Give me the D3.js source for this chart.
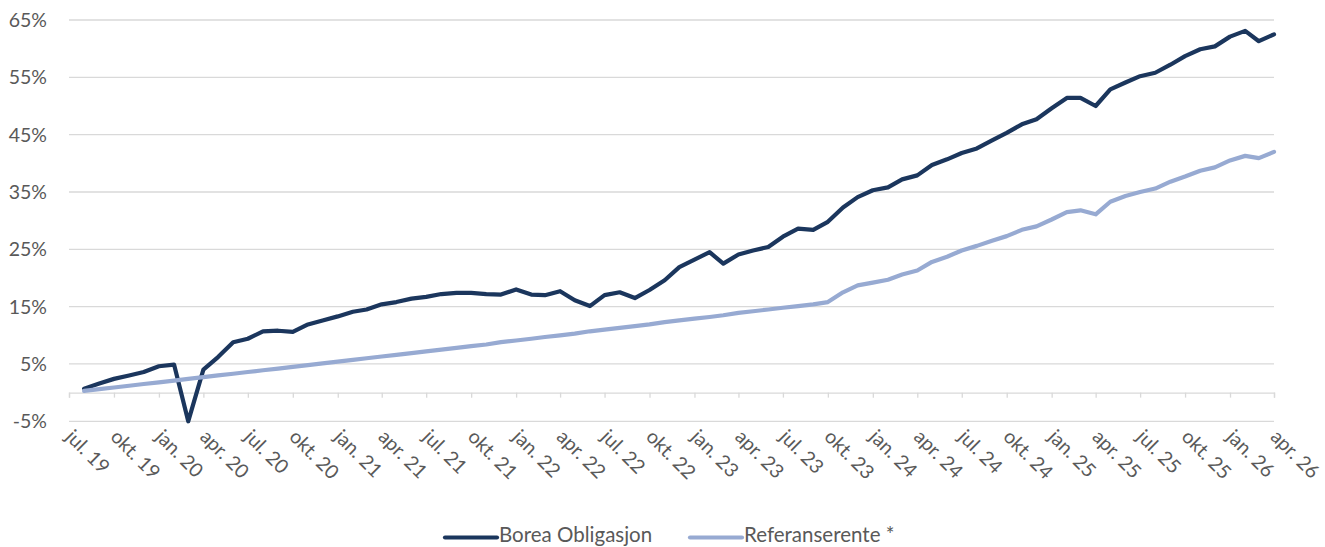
<!DOCTYPE html>
<html>
<head>
<meta charset="utf-8">
<script src="https://cdn.jsdelivr.net/npm/d3@7"></script>
<style>
  html, body { margin: 0; padding: 0; background: #ffffff; }
  svg { display: block; font-family: Lato, "Open Sans", sans-serif; }
</style>
</head>
<body>
<svg id="chart" width="1325" height="547"></svg>
<script>
// ---- Data ----
const seriesNames = ["Borea Obligasjon", "Referanserente *"];
const firstMonth = "2019-08";   // first data point (monthly)
const lastMonth = "2026-04";    // last data point (monthly)
const boreaValues = [
  0.7, 1.6, 2.4, 3.0, 3.6, 4.6, 4.9, -5.0, 4.0, 6.2,
  8.8, 9.4, 10.7, 10.8, 10.6, 11.9, 12.6, 13.3, 14.1, 14.5,
  15.4, 15.8, 16.4, 16.7, 17.2, 17.4, 17.4, 17.2, 17.1, 18.0,
  17.1, 17.0, 17.7, 16.1, 15.1, 17.0, 17.5, 16.5, 17.9, 19.6,
  21.9, 23.2, 24.5, 22.5, 24.1, 24.8, 25.4, 27.2, 28.6, 28.4,
  29.8, 32.3, 34.1, 35.3, 35.8, 37.2, 37.9, 39.7, 40.7, 41.8,
  42.6, 44.0, 45.3, 46.8, 47.7, 49.6, 51.4, 51.4, 50.0, 52.9,
  54.1, 55.2, 55.8, 57.2, 58.7, 59.9, 60.4, 62.1, 63.1, 61.3,
  62.5
];
const referanseValues = [
  0.3, 0.6, 0.9, 1.2, 1.5, 1.8, 2.1, 2.4, 2.7, 3.0,
  3.3, 3.6, 3.9, 4.2, 4.5, 4.8, 5.1, 5.4, 5.7, 6.0,
  6.3, 6.6, 6.9, 7.2, 7.5, 7.8, 8.1, 8.4, 8.8, 9.1,
  9.4, 9.7, 10.0, 10.3, 10.7, 11.0, 11.3, 11.6, 11.9, 12.3,
  12.6, 12.9, 13.2, 13.5, 13.9, 14.2, 14.5, 14.8, 15.1, 15.4,
  15.8, 17.5, 18.7, 19.2, 19.7, 20.6, 21.3, 22.8, 23.7, 24.8,
  25.6, 26.5, 27.3, 28.4, 29.0, 30.2, 31.5, 31.8, 31.1, 33.3,
  34.3, 35.0, 35.6, 36.8, 37.7, 38.7, 39.3, 40.5, 41.3, 40.9,
  42.0
];
const xTickLabels = [
  "jul. 19", "okt. 19", "jan. 20", "apr. 20", "jul. 20", "okt. 20", "jan. 21",
  "apr. 21", "jul. 21", "okt. 21", "jan. 22", "apr. 22", "jul. 22", "okt. 22",
  "jan. 23", "apr. 23", "jul. 23", "okt. 23", "jan. 24", "apr. 24", "jul. 24",
  "okt. 24", "jan. 25", "apr. 25", "jul. 25", "okt. 25", "jan. 26", "apr. 26"
];
const xAxisStart = "2019-07";
const xAxisEnd = "2026-04";
const yTicks = [-5, 5, 15, 25, 35, 45, 55, 65];

// ---- Setup ----
const parseMonth = d3.timeParse("%Y-%m");
const dates = d3.timeMonth.range(parseMonth(firstMonth), d3.timeMonth.offset(parseMonth(lastMonth), 1));
const tickDates = d3.timeMonth.range(parseMonth(xAxisStart), d3.timeMonth.offset(parseMonth(xAxisEnd), 1), 3);

const colors = { dark: "#1b365d", light: "#97aad2", grid: "#d9d9d9", text: "#595959" };

const svg = d3.select("#chart");
const x = d3.scaleTime().domain([parseMonth(xAxisStart), parseMonth(xAxisEnd)]).range([69, 1274]);
const y = d3.scaleLinear().domain([-5, 65]).range([421.3, 20]);

// gridlines
svg.append("g").selectAll("line").data(yTicks).join("line")
  .attr("x1", 69).attr("x2", 1274)
  .attr("y1", d => y(d)).attr("y2", d => y(d))
  .attr("stroke", colors.grid).attr("stroke-width", 1.3);

// y labels
svg.append("g").selectAll("text").data(yTicks).join("text")
  .attr("x", 47).attr("y", d => y(d))
  .attr("dy", "0.36em")
  .attr("text-anchor", "end")
  .attr("fill", colors.text)
  .style("font-size", "19.5px")
  .text(d => d + "%");

// x axis (at 0)
const xAxis = d3.axisBottom(x).tickValues(tickDates).tickSize(5).tickFormat("");
const gx = svg.append("g").attr("transform", `translate(0,${y(0)})`).call(xAxis);
gx.select(".domain").attr("stroke", colors.grid).attr("stroke-width", 1.3);
gx.selectAll(".tick line").attr("stroke", colors.grid).attr("stroke-width", 1.3);

// x labels rotated
svg.append("g").selectAll("text").data(tickDates).join("text")
  .attr("transform", d => `translate(${x(d) - 4.5},438) rotate(45)`)
  .attr("text-anchor", "start")
  .attr("fill", colors.text)
  .style("font-size", "19.5px")
  .text((d, i) => xTickLabels[i]);

// lines
const lineGen = d3.line().x((d, i) => x(dates[i])).y(d => y(d));
svg.append("path").datum(boreaValues)
  .attr("d", lineGen).attr("fill", "none")
  .attr("stroke", colors.dark).attr("stroke-width", 4.2)
  .attr("stroke-linejoin", "round").attr("stroke-linecap", "round");
svg.append("path").datum(referanseValues)
  .attr("d", lineGen).attr("fill", "none")
  .attr("stroke", colors.light).attr("stroke-width", 4.2)
  .attr("stroke-linejoin", "round").attr("stroke-linecap", "round");

// legend
const legendItems = [
  { name: seriesNames[0], color: colors.dark, x: 445 },
  { name: seriesNames[1], color: colors.light, x: 690 }
];
const lg = svg.append("g").selectAll("g").data(legendItems).join("g")
  .attr("transform", d => `translate(${d.x},537.5)`);
lg.append("line").attr("x1", 0).attr("x2", 52).attr("y1", 0).attr("y2", 0)
  .attr("stroke", d => d.color).attr("stroke-width", 4.2).attr("stroke-linecap", "round");
lg.append("text").attr("x", 54).attr("y", 4.5)
  .attr("fill", colors.text).style("font-size", "20.5px")
  .text(d => d.name);
</script>
</body>
</html>
